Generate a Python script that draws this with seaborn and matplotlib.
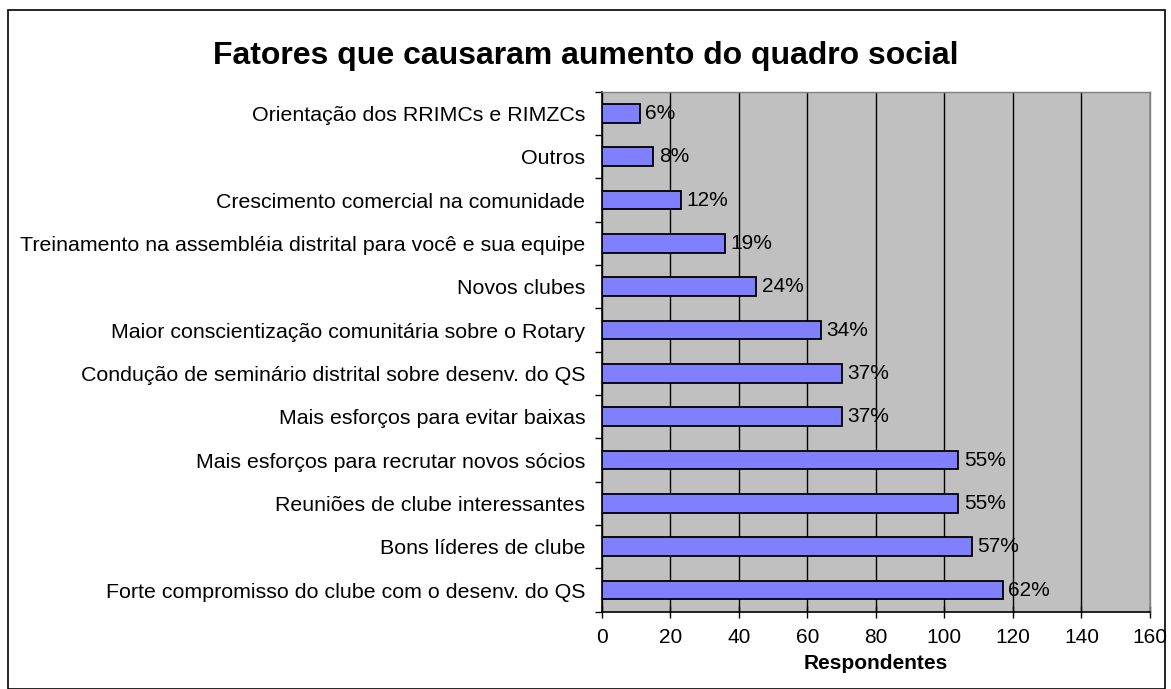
import matplotlib
matplotlib.use("Agg")
import matplotlib.pyplot as plt
import seaborn as sns
import pandas as pd
from matplotlib.patches import Rectangle
from matplotlib.ticker import MultipleLocator, FixedLocator

fatores = [
    "Orientação dos RRIMCs e RIMZCs",
    "Outros",
    "Crescimento comercial na comunidade",
    "Treinamento na assembléia distrital para você e sua equipe",
    "Novos clubes",
    "Maior conscientização comunitária sobre o Rotary",
    "Condução de seminário distrital sobre desenv. do QS",
    "Mais esforços para evitar baixas",
    "Mais esforços para recrutar novos sócios",
    "Reuniões de clube interessantes",
    "Bons líderes de clube",
    "Forte compromisso do clube com o desenv. do QS",
]
respondentes = [11, 15, 23, 36, 45, 64, 70, 70, 104, 104, 108, 117]
percentuais = ["6%", "8%", "12%", "19%", "24%", "34%", "37%", "37%", "55%", "55%", "57%", "62%"]

df = pd.DataFrame({"Fator": fatores, "Respondentes": respondentes})

sns.set_theme(style="white")
plt.rcParams['font.family'] = ['Liberation Sans', 'DejaVu Sans']
plt.rcParams['text.color'] = 'black'
plt.rcParams['xtick.color'] = 'black'
plt.rcParams['ytick.color'] = 'black'
plt.rcParams['axes.labelcolor'] = 'black'

fig = plt.figure(figsize=(11.71, 6.89), dpi=100)
ax = fig.add_axes([0.514, 0.112, 0.468, 0.755])

sns.barplot(data=df, x="Respondentes", y="Fator", order=fatores, orient="h",
            color="#8080FF", saturation=1, width=0.43, edgecolor="black",
            linewidth=1.3, ax=ax, zorder=3)

ax.set_facecolor("#C0C0C0")
ax.set_xlim(0, 160)
ax.set_ylim(len(fatores) - 0.5, -0.5)
ax.xaxis.set_major_locator(MultipleLocator(20))
ax.grid(axis="x", color="black", linewidth=1, zorder=0)
ax.set_axisbelow(True)

ax.bar_label(ax.containers[0], labels=percentuais, padding=4, fontsize=15, color="black")

ax.set_ylabel("")
ax.set_xlabel("Respondentes", fontsize=15, fontweight="bold", labelpad=5)
ax.tick_params(axis="y", which="major", length=0, labelsize=15.4, pad=12)
ax.yaxis.set_minor_locator(FixedLocator([i - 0.5 for i in range(len(fatores) + 1)]))
ax.tick_params(axis="y", which="minor", length=5, width=1, direction="out", color="black", left=True)
ax.tick_params(axis="x", length=8, width=1, direction="inout", color="black", labelsize=15, pad=8, bottom=True)

for side in ["left", "bottom"]:
    ax.spines[side].set_color("black")
    ax.spines[side].set_linewidth(1.2)
for side in ["top", "right"]:
    ax.spines[side].set_color("#808080")
    ax.spines[side].set_linewidth(1)

fig.text(0.5, 0.918, "Fatores que causaram aumento do quadro social",
         ha="center", va="center", fontsize=23, fontweight="bold")

fig.patches.append(Rectangle((0.007, 0.0), 0.988, 0.985, transform=fig.transFigure,
                             fill=False, edgecolor="black", linewidth=1.2))

fig.savefig("out.png", dpi=100)
plt.close(fig)
